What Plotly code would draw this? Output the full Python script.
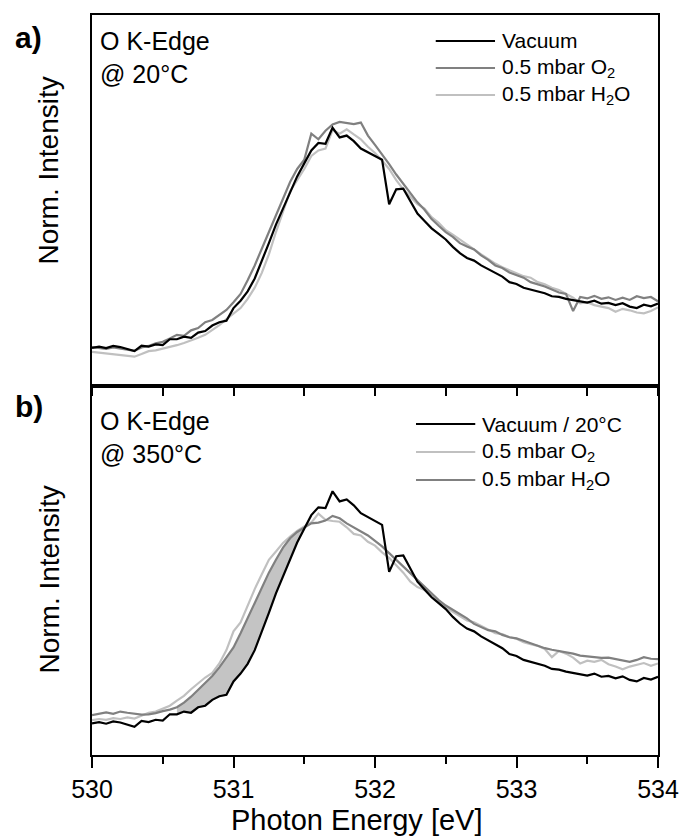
import plotly.graph_objects as go

# ---------------- data (Norm. intensity, arbitrary units) ----------------
energy = [round(530 + 0.05 * i, 2) for i in range(81)]  # photon energy grid [eV]

vac_20 = [10.3, 10.6, 10.2, 10.8, 10.5, 10.0, 9.4, 10.9, 10.6, 11.2,
          11.0, 12.6, 12.6, 13.3, 13.0, 14.4, 14.8, 16.3, 17.2, 17.6,
          21.0, 23.0, 25.5, 29.0, 33.5, 38.5, 43.5, 48.0, 52.5, 56.5,
          60.0, 63.5, 65.5, 65.3, 69.6, 67.0, 67.5, 66.0, 64.0, 63.0,
          62.0, 61.0, 49.0, 53.0, 53.2, 50.0, 46.5, 44.5, 42.5, 41.0,
          39.5, 37.5, 35.8, 34.5, 33.8, 32.5, 31.5, 30.5, 29.5, 28.0,
          27.5, 26.5, 26.0, 25.5, 25.0, 24.2, 24.0, 23.5, 23.2, 22.8,
          22.5, 23.0, 22.2, 22.4, 21.8, 22.3, 21.4, 21.0, 21.9, 21.5,
          22.2]

o2_20 = [10.5, 10.3, 10.0, 10.4, 10.1, 9.6, 9.5, 10.4, 10.8, 11.5,
         11.9, 12.8, 13.8, 13.5, 15.0, 15.6, 17.2, 17.8, 19.2, 20.5,
         22.6, 24.8, 28.5, 32.5, 37.0, 41.5, 46.5, 50.5, 55.0, 58.5,
         61.0, 68.0, 66.5, 68.8, 70.5, 71.2, 70.8, 70.6, 71.0, 67.5,
         65.0, 62.5, 59.8, 57.0, 54.5, 52.0, 49.5, 47.5, 45.0, 43.2,
         41.5, 40.2, 38.5, 37.6, 36.8, 35.2, 34.0, 32.5, 31.8, 30.6,
         29.8, 29.2, 28.0, 27.5, 26.8, 26.0, 25.2, 24.8, 20.2, 24.0,
         23.6, 24.3, 23.5, 23.9, 23.2, 23.8, 23.2, 24.2, 23.7, 24.0,
         22.8]

h2o_20 = [9.2, 9.0, 8.8, 8.6, 8.4, 8.3, 7.9, 8.6, 9.4, 9.6,
          10.0, 10.5, 11.0, 11.6, 12.2, 13.0, 13.8, 15.0, 16.4, 18.0,
          19.6, 21.0, 23.5, 26.5, 30.5, 35.5, 41.5, 47.0, 52.5, 55.5,
          58.5, 62.0, 63.5, 64.0, 69.0, 68.0, 69.2, 67.8, 66.5, 64.5,
          62.8, 60.8, 58.5, 55.5, 53.0, 51.0, 49.0, 47.8, 45.5, 44.0,
          42.0, 40.8, 39.4, 38.2, 36.8, 35.5, 34.2, 33.0, 32.0, 31.2,
          30.4, 29.6, 29.2, 28.0, 27.4, 26.5, 25.9, 24.8, 23.8, 22.3,
          22.6, 21.8, 21.4, 21.0, 20.0, 20.8, 20.4, 19.8, 19.6, 20.2,
          21.2]

o2_350 = [11.1, 11.4, 11.2, 11.6, 11.4, 11.8, 11.5, 12.2, 13.0, 13.3,
          14.1, 14.8, 16.1, 17.3, 19.0, 20.5, 22.0, 23.2, 25.6, 29.0,
          33.8, 36.1, 40.4, 44.6, 48.4, 52.1, 54.2, 56.4, 58.0, 59.5,
          60.6, 61.6, 63.9, 62.3, 62.0, 61.8, 60.4, 58.7, 58.3, 56.7,
          55.7, 54.0, 52.6, 50.7, 48.8, 46.5, 45.1, 44.4, 42.7, 41.3,
          39.9, 38.8, 37.8, 36.6, 36.1, 35.2, 34.4, 33.3, 33.1, 32.3,
          31.9, 31.0, 30.5, 30.1, 29.3, 27.2, 28.8, 28.1, 27.1, 25.6,
          26.3, 26.0, 26.5, 25.4, 24.8, 24.1, 24.8, 25.2, 25.7, 25.0,
          25.6]

h2o_350 = [12.4, 12.7, 13.1, 12.7, 13.3, 13.0, 12.8, 12.5, 12.6, 12.9,
           13.4, 13.8, 14.4, 15.6, 17.1, 18.8, 20.7, 22.4, 24.6, 27.0,
           29.7, 33.3, 37.1, 41.0, 44.6, 48.8, 52.1, 55.2, 57.6, 59.2,
           60.3, 61.4, 61.6, 62.1, 63.3, 62.7, 61.4, 60.4, 59.2, 58.3,
           56.9, 55.5, 53.8, 52.1, 50.5, 48.6, 46.9, 45.2, 43.7, 41.8,
           40.4, 39.3, 38.0, 37.1, 35.7, 35.0, 34.1, 33.8, 32.9, 32.3,
           32.0, 31.4, 30.8, 30.0, 29.5, 29.1, 28.8, 28.4, 28.1, 27.6,
           27.4, 27.2, 27.0, 27.1, 26.7, 26.4, 26.0, 26.5, 27.2, 26.8,
           26.7]

x_ticks = [530, 531, 532, 533, 534]
shade_range = (530.6, 531.5)   # region shaded between vacuum and H2O at 350 C

BLACK = "#000000"
DARK = "#808080"
LIGHT = "#c0c0c0"
FILL = "#c4c4c4"
FONT = "Liberation Sans"

# ---------------- geometry (pixels) ----------------
W, H = 691, 836
L, R, T, B = 92, 665, 15, 755
DIV = 386


def PX(x):
    return (x - L) / (R - L)


def PY(y):
    return (B - y) / (B - T)


fig = go.Figure()

# shaded region in panel b
idx = [i for i, e in enumerate(energy) if shade_range[0] - 1e-9 <= e <= shade_range[1] + 1e-9]
sx = [energy[i] for i in idx] + [energy[i] for i in reversed(idx)]
sy = [vac_20[i] for i in idx] + [h2o_350[i] for i in reversed(idx)]
fig.add_trace(go.Scatter(x=sx, y=sy, fill="toself", fillcolor=FILL, line=dict(width=0),
                         mode="lines", xaxis="x", yaxis="y", showlegend=False, hoverinfo="skip"))

# panel a
for ys, c in [(h2o_20, LIGHT), (o2_20, DARK), (vac_20, BLACK)]:
    fig.add_trace(go.Scatter(x=energy, y=ys, mode="lines", line=dict(color=c, width=2.2),
                             xaxis="x2", yaxis="y2", showlegend=False))
# panel b
for ys, c in [(o2_350, LIGHT), (h2o_350, DARK), (vac_20, BLACK)]:
    fig.add_trace(go.Scatter(x=energy, y=ys, mode="lines", line=dict(color=c, width=2.2),
                             xaxis="x", yaxis="y", showlegend=False))

split = PY(DIV)
axis_common = dict(showgrid=False, zeroline=False, showline=True, linecolor="black",
                   linewidth=2, mirror=True)

fig.update_layout(
    width=W, height=H,
    margin=dict(l=L, r=W - R, t=T, b=H - B),
    paper_bgcolor="white", plot_bgcolor="white",
    xaxis=dict(domain=[0, 1], anchor="y", range=[530, 534], tickvals=x_ticks,
               ticks="outside", ticklen=11, tickwidth=2, tickcolor="black",
               minor=dict(dtick=0.5, tick0=530, ticks="outside", ticklen=7, tickwidth=2,
                          tickcolor="black"),
               tickfont=dict(family=FONT, size=25, color="black"), **axis_common),
    xaxis2=dict(domain=[0, 1], anchor="y2", range=[530, 534], dtick=0.5, tick0=530,
                ticks="outside", ticklen=8, tickwidth=2, tickcolor="black",
                showticklabels=False, **axis_common),
    yaxis=dict(domain=[0, split], range=[2.2, 96.5], showticklabels=False, ticks="",
               **axis_common),
    yaxis2=dict(domain=[split, 1], range=[0, 100], showticklabels=False, ticks="",
                **axis_common),
    showlegend=False,
)

ann = []


def text(x, y, s, size, xanchor="left", bold=False, angle=0):
    ann.append(dict(x=PX(x), y=PY(y), xref="paper", yref="paper", text=(f"<b>{s}</b>" if bold else s),
                    showarrow=False, xanchor=xanchor, yanchor="middle", textangle=angle,
                    font=dict(family=FONT, size=size, color="black")))


text(28, 37, "a)", 30, "center", bold=True)
text(28, 406, "b)", 30, "center", bold=True)
text(98, 41, "O K-Edge", 25)
text(98, 74, "@ 20°C", 25)
text(98, 421, "O K-Edge", 25)
text(98, 454, "@ 350°C", 25)
text(48, 171, "Norm. Intensity", 28, "center", angle=-90)
text(48, 580, "Norm. Intensity", 28, "center", angle=-90)
text(360, 820, "Photon Energy [eV]", 29, "center")

shapes = []
legend_a = [("Vacuum", BLACK, 41), ("0.5 mbar O<sub>2</sub>", DARK, 68), ("0.5 mbar H<sub>2</sub>O", LIGHT, 95)]
legend_b = [("Vacuum / 20°C", BLACK, 424), ("0.5 mbar O<sub>2</sub>", LIGHT, 452), ("0.5 mbar H<sub>2</sub>O", DARK, 480)]
for items, x0, x1 in [(legend_a, 440, 500), (legend_b, 420, 480)]:
    for label, col, y in items:
        shapes.append(dict(type="line", xref="paper", yref="paper", x0=PX(x0), x1=PX(x1),
                           y0=PY(y), y1=PY(y), line=dict(color=col, width=2.2)))
        text(x1 + 5, y, label, 21)

fig.update_layout(annotations=ann, shapes=shapes)
fig.write_html("out.html")
